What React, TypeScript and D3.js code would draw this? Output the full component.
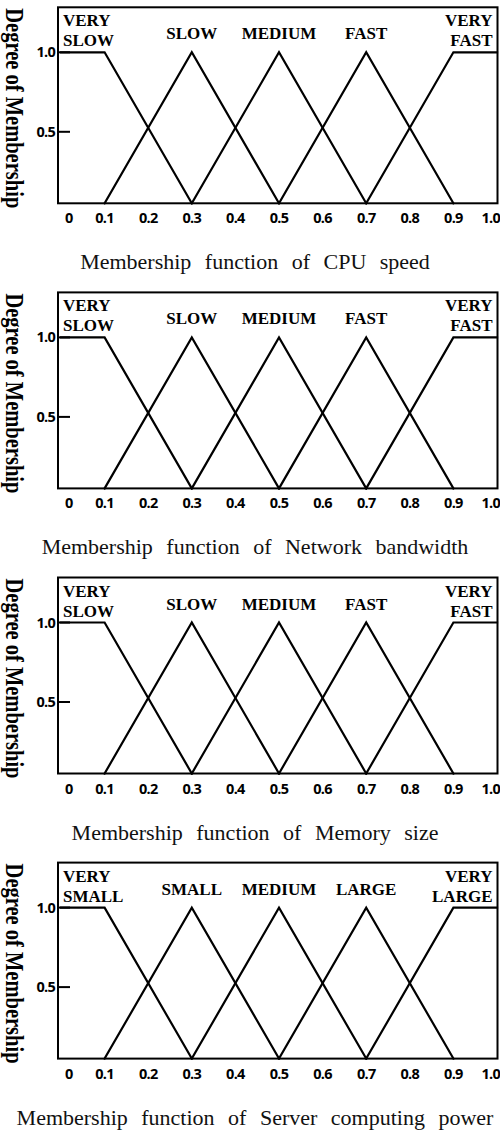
import * as d3 from "d3";
import React from "react";

// membership function breakpoints [x, degree]
const veryLow: [number, number][] = [[0, 1], [0.1, 1], [0.3, 0]];
const low: [number, number][] = [[0.1, 0], [0.3, 1], [0.5, 0]];
const medium: [number, number][] = [[0.3, 0], [0.5, 1], [0.7, 0]];
const high: [number, number][] = [[0.5, 0], [0.7, 1], [0.9, 0]];
const veryHigh: [number, number][] = [[0.7, 0], [0.9, 1], [1, 1]];

const speedTerms = ["VERY SLOW", "SLOW", "MEDIUM", "FAST", "VERY FAST"];
const powerTerms = ["VERY SMALL", "SMALL", "MEDIUM", "LARGE", "VERY LARGE"];

const captions = [
  "Membership function of CPU speed",
  "Membership function of Network bandwidth",
  "Membership function of Memory size",
  "Membership function of Server computing power",
];
const panelTerms = [speedTerms, speedTerms, speedTerms, powerTerms];

const xTicks = [0, 0.1, 0.2, 0.3, 0.4, 0.5, 0.6, 0.7, 0.8, 0.9, 1.0];
const xTickLabels = ["0", "0.1", "0.2", "0.3", "0.4", "0.5", "0.6", "0.7", "0.8", "0.9", "1.0"];
const yTicks = [0.5, 1.0];
const yTickLabels = ["0.5", "1.0"];

const W = 500;
const H = 1132;
const panelStep = 285.1;
const firstTop = 7.3;

const serif = "'Liberation Serif', 'DejaVu Serif', serif";
const sans = "'Open Sans', 'Noto Sans', sans-serif";
const tickStyle = { fontFamily: sans, fontWeight: 700, fontSize: 14.5, letterSpacing: -0.7 } as React.CSSProperties;

const Panel: React.FC<{ top: number; terms: string[]; caption: string }> = ({ top, terms, caption }) => {
  const frameL = 58;
  const frameR = 497.5;
  const yOne = top + 45;
  const yZero = top + 196;
  const x = d3.scaleLinear().domain([0, 1]).range([61, 497]);
  const y = d3.scaleLinear().domain([0, 1]).range([yZero, yOne]);
  const line = d3.line<[number, number]>().x((d) => x(d[0])).y((d) => y(d[1]));
  const sets = [veryLow, low, medium, high, veryHigh];

  return (
    <g>
      {/* frame */}
      <rect x={frameL} y={top} width={frameR - frameL} height={yZero - top}
        fill="none" stroke="#000" strokeWidth={2} />

      {sets.map((s, i) => (
        <path key={i} d={line(s)!} fill="none" stroke="#000" strokeWidth={2.2} strokeLinecap="square" />
      ))}

      {/* term labels */}
      {terms.map((t, i) => {
        const words = t.split(" ");
        const style = { fontFamily: serif, fontWeight: 700, fontSize: 17 } as React.CSSProperties;
        if (i === 0) {
          return (
            <text key={t} style={style} fill="#000">
              <tspan x={frameL + 5} y={top + 19}>{words[0]}</tspan>
              <tspan x={frameL + 5} y={top + 39}>{words[1]}</tspan>
            </text>
          );
        }
        if (i === terms.length - 1) {
          return (
            <text key={t} style={style} fill="#000" textAnchor="end">
              <tspan x={frameR - 5} y={top + 19}>{words[0]}</tspan>
              <tspan x={frameR - 5} y={top + 39}>{words[1]}</tspan>
            </text>
          );
        }
        const peak = sets[i].find((d) => d[1] === 1)!;
        return (
          <text key={t} style={style} fill="#000" textAnchor="middle" x={x(peak[0])} y={top + 32}>
            {t}
          </text>
        );
      })}

      {/* y ticks */}
      {yTicks.map((v, i) => {
        const ty = y(v) + (v < 1 ? 4 : 0);
        return (
          <g key={v}>
            <line x1={frameL} x2={frameL + 12} y1={ty} y2={ty} stroke="#000" strokeWidth={2} />
            <text x={55} y={ty + 5} textAnchor="end" style={tickStyle}>
              {yTickLabels[i]}
            </text>
          </g>
        );
      })}

      {/* x tick labels */}
      {xTicks.map((v, i) => {
        const first = i === 0;
        const last = i === xTicks.length - 1;
        return (
          <text key={v} x={first ? x(v) + 4 : last ? x(v) + 3 : x(v)} y={top + 216}
            textAnchor={first ? "start" : last ? "end" : "middle"} style={tickStyle}>
            {xTickLabels[i]}
          </text>
        );
      })}

      {/* y axis title */}
      <text transform={`translate(6,${top + 1}) rotate(90)`} textAnchor="start"
        textLength={200} lengthAdjust="spacingAndGlyphs"
        style={{ fontFamily: serif, fontWeight: 700, fontSize: 25 }}>
        Degree of Membership
      </text>

      {/* caption */}
      <text x={255} y={top + 262} textAnchor="middle"
        style={{ fontFamily: serif, fontSize: 22, wordSpacing: 8 }} fill="#111">
        {caption}
      </text>
    </g>
  );
};

export default function App() {
  return (
    <svg width={W} height={H} style={{ position: "absolute", left: 0, top: 0, background: "#fff" }}>
      <rect width={W} height={H} fill="#fff" />
      {captions.map((c, i) => (
        <Panel key={c} top={firstTop + i * panelStep} terms={panelTerms[i]} caption={c} />
      ))}
    </svg>
  );
}
